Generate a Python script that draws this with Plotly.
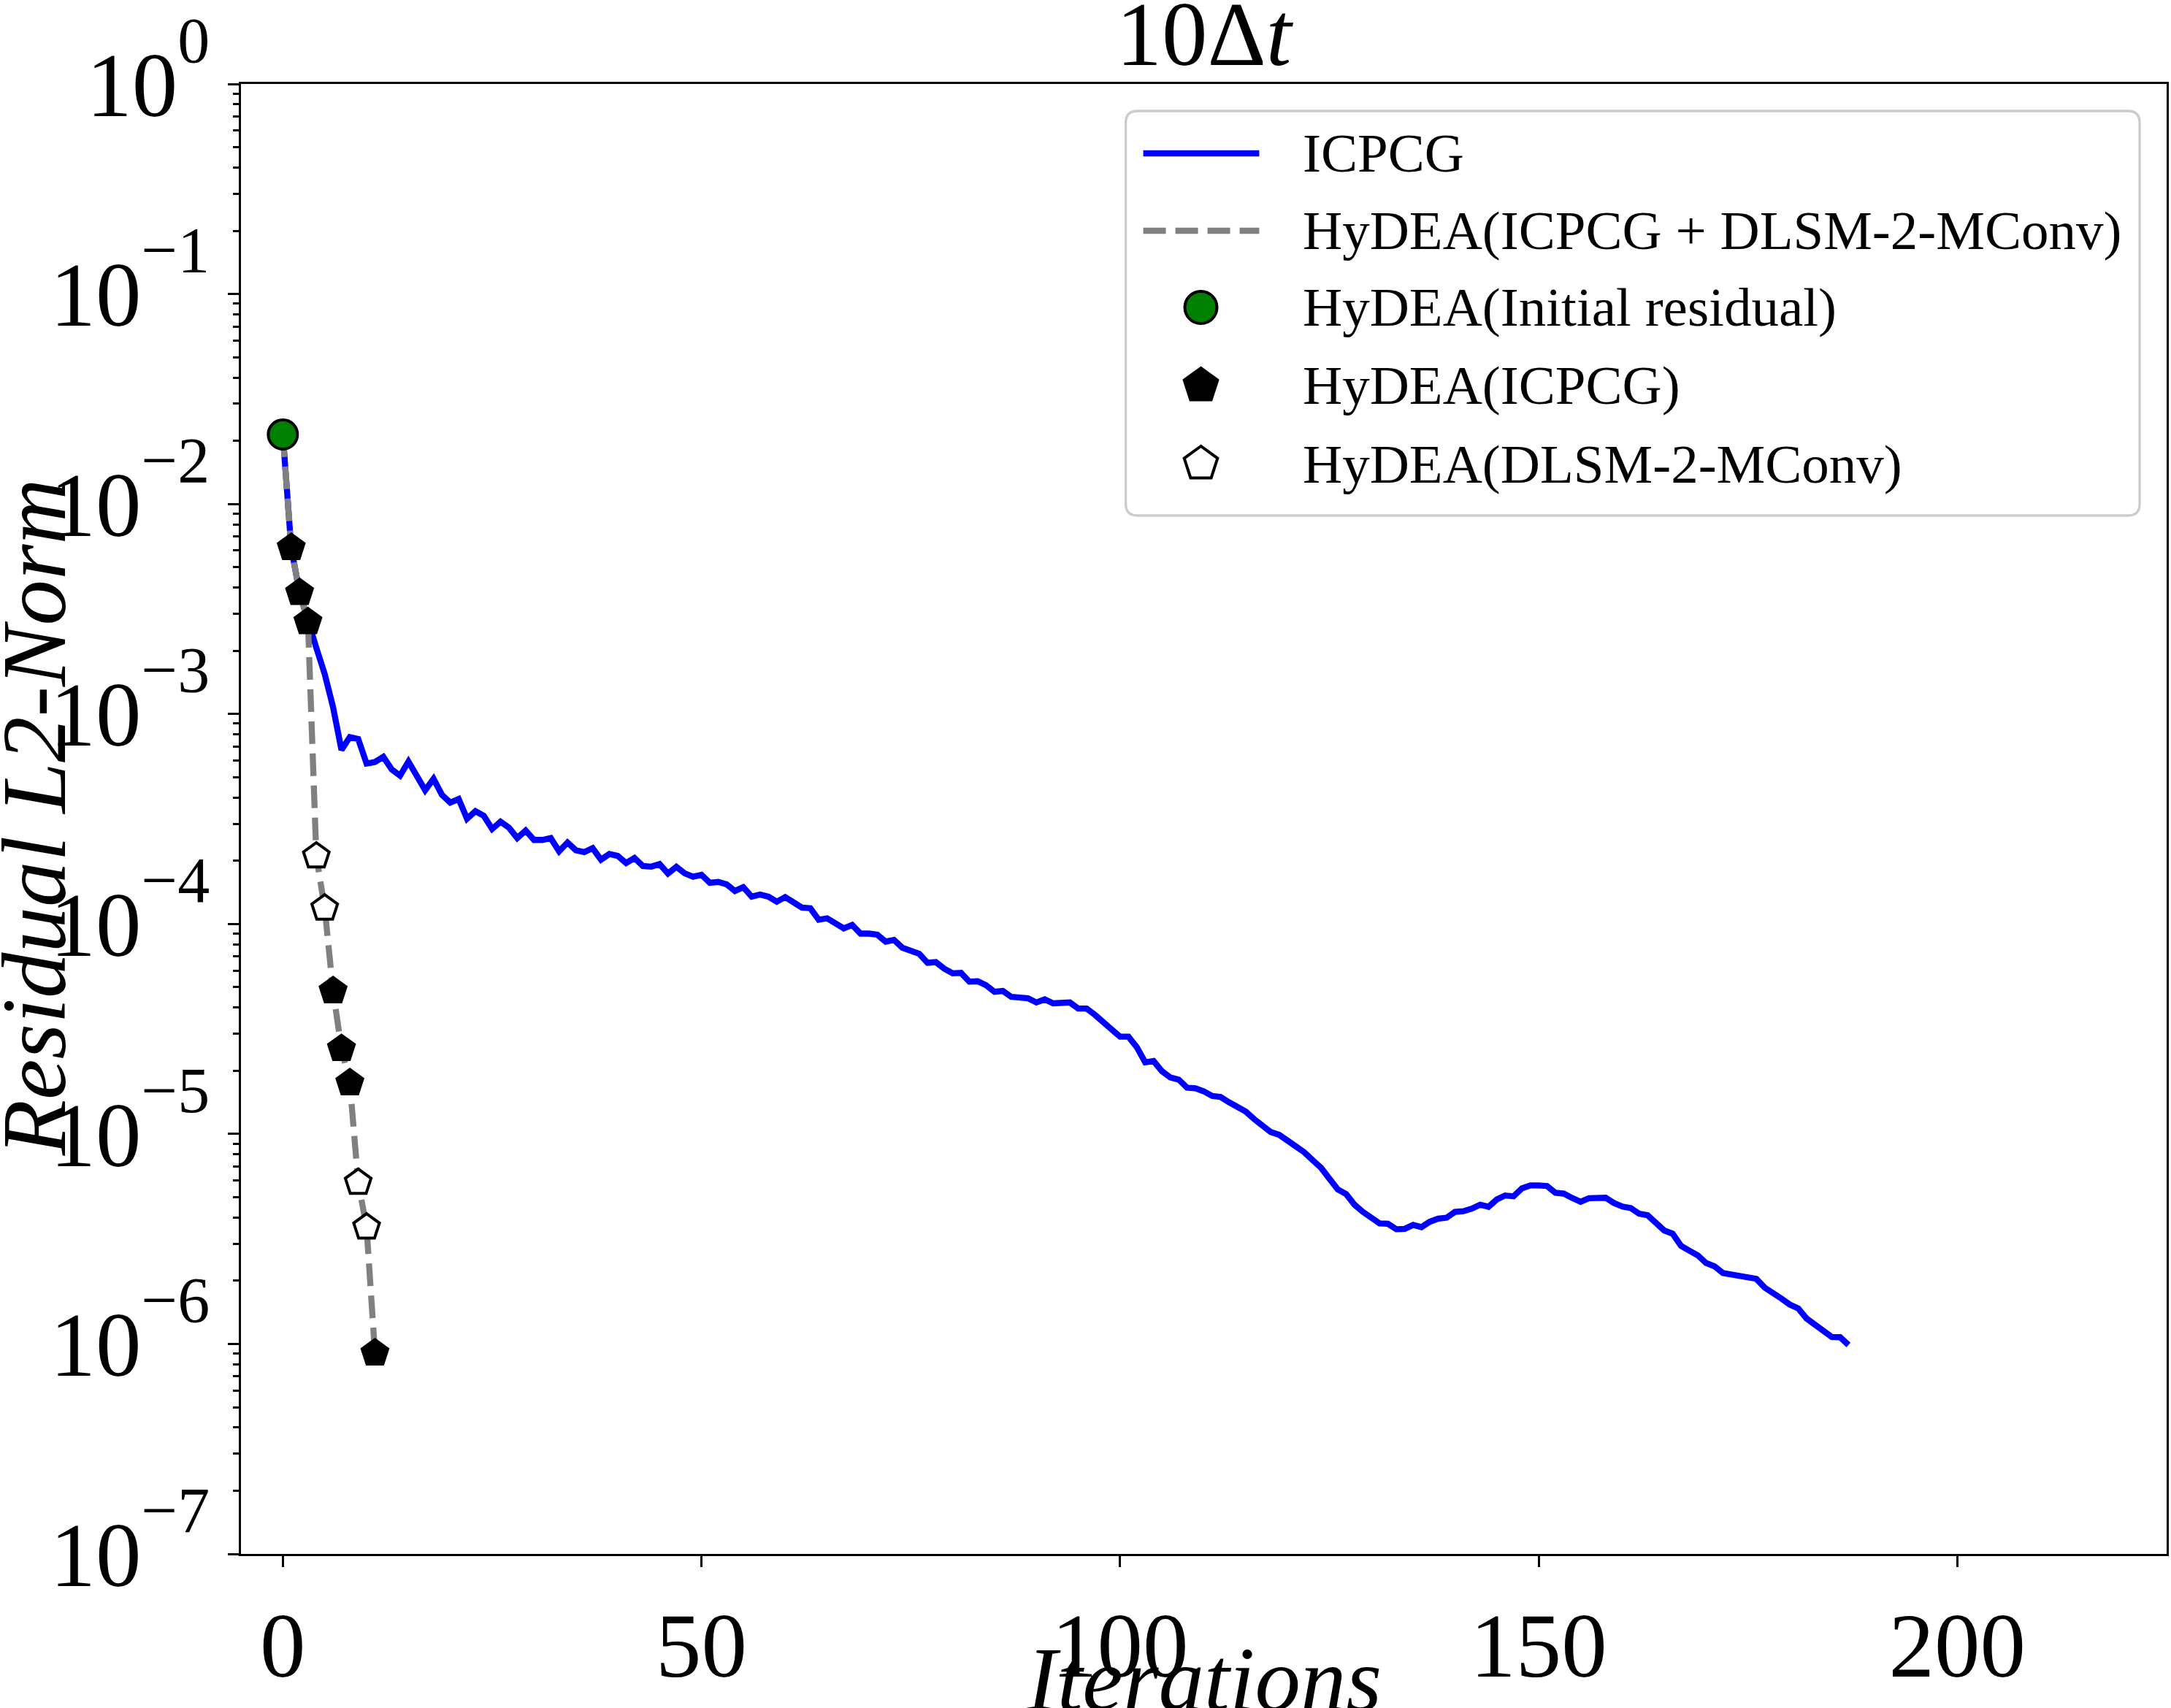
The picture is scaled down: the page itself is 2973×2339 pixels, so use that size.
import math
import plotly.graph_objects as go

# ---------------- data ----------------
icpcg_iterations = list(range(188))
icpcg_log10_residual = [
    -1.669, -2.208, -2.4225, -2.5615, -2.685, -2.810, -2.968, -3.171, -3.110, -3.119,
    -3.236, -3.229, -3.204, -3.264, -3.294, -3.227, -3.298, -3.363, -3.309, -3.385,
    -3.422, -3.405, -3.499, -3.463, -3.485, -3.548, -3.513, -3.541, -3.591, -3.555,
    -3.600, -3.600, -3.591, -3.654, -3.612, -3.649, -3.658, -3.639, -3.694, -3.667,
    -3.676, -3.710, -3.686, -3.724, -3.727, -3.715, -3.760, -3.728, -3.759, -3.775,
    -3.766, -3.804, -3.800, -3.811, -3.843, -3.825, -3.870, -3.860, -3.870, -3.894,
    -3.872, -3.900, -3.922, -3.925, -3.980, -3.973, -3.998, -4.021, -4.005, -4.046,
    -4.046, -4.051, -4.084, -4.076, -4.113, -4.127, -4.142, -4.185, -4.182, -4.213,
    -4.235, -4.233, -4.275, -4.273, -4.292, -4.323, -4.319, -4.347, -4.348, -4.354,
    -4.374, -4.359, -4.378, -4.378, -4.374, -4.403, -4.403, -4.433, -4.470, -4.505,
    -4.537, -4.537, -4.587, -4.659, -4.653, -4.701, -4.731, -4.741, -4.780, -4.783,
    -4.797, -4.819, -4.824, -4.849, -4.871, -4.893, -4.929, -4.960, -4.991, -5.004,
    -5.031, -5.059, -5.087, -5.125, -5.161, -5.213, -5.264, -5.286, -5.337, -5.371,
    -5.403, -5.426, -5.428, -5.454, -5.452, -5.433, -5.444, -5.418, -5.403, -5.399,
    -5.371, -5.368, -5.356, -5.337, -5.347, -5.312, -5.293, -5.297, -5.259, -5.245,
    -5.245, -5.248, -5.280, -5.284, -5.305, -5.323, -5.306, -5.308, -5.304, -5.329,
    -5.346, -5.353, -5.380, -5.387, -5.428, -5.460, -5.475, -5.533, -5.556, -5.578,
    -5.615, -5.630, -5.662, -5.670, -5.681, -5.683, -5.690, -5.732, -5.756, -5.784,
    -5.813, -5.831, -5.879, -5.909, -5.931, -5.967, -5.968, -6.005,
]

hydea_iterations = list(range(12))
hydea_log10_residual = [-1.669, -2.208, -2.4225, -2.5615, -3.677, -3.925,
                        -4.319, -4.594, -4.757, -5.231, -5.444, -6.044]
hydea_step_solver = ["initial", "ICPCG", "ICPCG", "ICPCG", "DLSM", "DLSM",
                     "ICPCG", "ICPCG", "ICPCG", "DLSM", "DLSM", "ICPCG"]

legend_labels = ["ICPCG", "HyDEA(ICPCG + DLSM-2-MConv)", "HyDEA(Initial residual)",
                 "HyDEA(ICPCG)", "HyDEA(DLSM-2-MConv)"]

x_tick_values = [0, 50, 100, 150, 200]
y_tick_exponents = [-7, -6, -5, -4, -3, -2, -1, 0]

# ---------------- derived values ----------------
icpcg_residual = [10 ** v for v in icpcg_log10_residual]
hydea_residual = [10 ** v for v in hydea_log10_residual]


def subset(kind):
    xs = [i for i, k in zip(hydea_iterations, hydea_step_solver) if k == kind]
    ys = [r for r, k in zip(hydea_residual, hydea_step_solver) if k == kind]
    return xs, ys


def power_label(e):
    exp_txt = ("−%d" % (-e)) if e < 0 else str(e)
    return ("10<span style='font-size:88px;baseline-shift:74px'>%s</span>" % exp_txt)


FONT = "Liberation Serif"
W, H = 2973, 2339
L, R, T, B = 330, 2970, 115, 2128


def pxx(x):
    return (x - L) / (R - L)


def pxy(y):
    return (B - y) / (B - T)


fig = go.Figure()
fig.add_trace(go.Scatter(x=icpcg_iterations, y=icpcg_residual, mode="lines",
                         line=dict(color="#0000ff", width=8.3), name=legend_labels[0]))
fig.add_trace(go.Scatter(x=hydea_iterations, y=hydea_residual, mode="lines",
                         line=dict(color="#808080", width=8.3, dash="31px,13px"),
                         name=legend_labels[1]))
xi, yi = subset("initial")
fig.add_trace(go.Scatter(x=xi, y=yi, mode="markers", name=legend_labels[2],
                         marker=dict(symbol="circle", size=40, color="#008000",
                                     line=dict(color="black", width=4))))
xc, yc = subset("ICPCG")
fig.add_trace(go.Scatter(x=xc, y=yc, mode="markers", name=legend_labels[3],
                         marker=dict(symbol="pentagon", size=37, color="black",
                                     line=dict(color="black", width=4))))
xd, yd = subset("DLSM")
fig.add_trace(go.Scatter(x=xd, y=yd, mode="markers", name=legend_labels[4],
                         marker=dict(symbol="pentagon", size=37, color="white",
                                     line=dict(color="black", width=4))))

minor_vals = [k * 10.0 ** e for e in range(-7, 0) for k in range(2, 10)]

fig.update_layout(
    width=W, height=H,
    margin=dict(l=L, r=W - R, t=T, b=H - B, pad=0),
    paper_bgcolor="white", plot_bgcolor="white",
    showlegend=False,
    font=dict(family=FONT, color="black", size=125),
    title=dict(text="10Δ<i>t</i>", x=0.5, xref="paper", xanchor="center",
               y=1 - 45 / H, yref="container", yanchor="middle",
               font=dict(family=FONT, size=125, color="black")),
    xaxis=dict(range=[-5, 225], tickmode="array", tickvals=x_tick_values,
               ticks="outside", ticklen=14.6, tickwidth=3.3, tickcolor="black",
               showline=True, linewidth=3.3, linecolor="black", mirror=True,
               showgrid=False, zeroline=False,
               tickfont=dict(family=FONT, size=125, color="black")),
    yaxis=dict(type="log", range=[-7, 0], tickmode="array",
               tickvals=[10.0 ** e for e in y_tick_exponents],
               ticktext=[power_label(e) for e in y_tick_exponents],
               ticks="outside", ticklen=14.6, tickwidth=3.3, tickcolor="black",
               showline=True, linewidth=3.3, linecolor="black", mirror=True,
               showgrid=False, zeroline=False,
               minor=dict(tickmode="array", tickvals=minor_vals, ticks="outside",
                          ticklen=8.3, tickwidth=2.5, tickcolor="black", showgrid=False),
               tickfont=dict(family=FONT, size=125, color="black")),
)

annotations = [
    dict(text="<i>Iterations</i>", xref="paper", yref="paper", x=0.5, y=pxy(2300),
         xanchor="center", yanchor="middle", showarrow=False,
         font=dict(family=FONT, size=125, color="black")),
    dict(text="<i>Residual L2-Norm</i>", xref="paper", yref="paper", x=pxx(47),
         y=pxy(1119), xanchor="center", yanchor="middle", textangle=-90,
         showarrow=False, font=dict(family=FONT, size=125, color="black")),
]

# ---------------- legend (drawn as decoration) ----------------
box_x0, box_x1, box_y0, box_y1 = 1543, 2933, 152, 706
rad = 16
rx, ry = rad / (R - L), rad / (B - T)
bx0, bx1, by0, by1 = pxx(box_x0), pxx(box_x1), pxy(box_y1), pxy(box_y0)
box_path = (f"M{bx0 + rx},{by1} L{bx1 - rx},{by1} Q{bx1},{by1} {bx1},{by1 - ry} "
            f"L{bx1},{by0 + ry} Q{bx1},{by0} {bx1 - rx},{by0} L{bx0 + rx},{by0} "
            f"Q{bx0},{by0} {bx0},{by0 + ry} L{bx0},{by1 - ry} Q{bx0},{by1} {bx0 + rx},{by1} Z")
shapes = [dict(type="path", xref="paper", yref="paper", path=box_path,
               fillcolor="rgba(255,255,255,0.8)", line=dict(color="#cccccc", width=3.3),
               layer="above")]

row_y = [210, 316, 421, 528, 635]
sx0, sx1, smid, tx = 1567, 1726, 1646, 1784
shapes.append(dict(type="line", xref="paper", yref="paper", x0=pxx(sx0), x1=pxx(sx1),
                   y0=pxy(row_y[0]), y1=pxy(row_y[0]), layer="above",
                   line=dict(color="#0000ff", width=8.3)))
shapes.append(dict(type="line", xref="paper", yref="paper", x0=pxx(sx0), x1=pxx(sx1),
                   y0=pxy(row_y[1]), y1=pxy(row_y[1]), layer="above",
                   line=dict(color="#808080", width=8.3, dash="31px,13px")))
cr = 22
shapes.append(dict(type="circle", xref="paper", yref="paper", xsizemode="pixel",
                   ysizemode="pixel", xanchor=pxx(smid), yanchor=pxy(row_y[2]),
                   x0=-cr, x1=cr, y0=-cr, y1=cr, layer="above",
                   fillcolor="#008000", line=dict(color="black", width=4)))


def pentagon_path(rr):
    pts = []
    for k in range(5):
        a = math.radians(90 + 72 * k)
        pts.append((rr * math.cos(a), rr * math.sin(a)))
    return "M" + " L".join(f"{px:.2f},{py:.2f}" for px, py in pts) + " Z"


for row, fill in ((row_y[3], "black"), (row_y[4], "white")):
    shapes.append(dict(type="path", xref="paper", yref="paper", xsizemode="pixel",
                       ysizemode="pixel", xanchor=pxx(smid), yanchor=pxy(row),
                       path=pentagon_path(24), layer="above",
                       fillcolor=fill, line=dict(color="black", width=4)))

for lab, yy in zip(legend_labels, row_y):
    annotations.append(dict(text=lab, xref="paper", yref="paper", x=pxx(tx), y=pxy(yy),
                            xanchor="left", yanchor="middle", showarrow=False,
                            font=dict(family=FONT, size=75, color="black")))

fig.update_layout(annotations=annotations, shapes=shapes)
fig.write_html("out.html")
